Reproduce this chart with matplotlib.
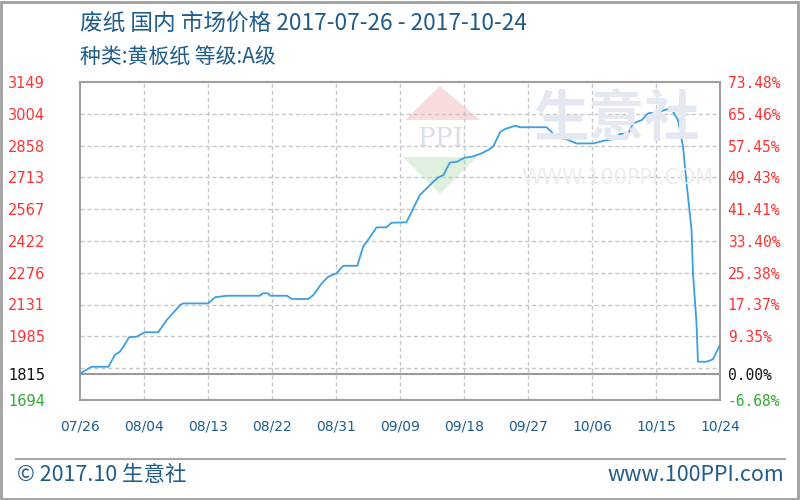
import matplotlib
matplotlib.use("Agg")
import matplotlib.pyplot as plt
import numpy as np
from matplotlib.patches import Polygon, Rectangle
from matplotlib.lines import Line2D

plt.rcParams['font.family'] = ['Noto Sans CJK SC', 'DejaVu Sans']

# price series, x = days after 2017-07-26
days = [0, 1.6, 4.0, 4.9, 5.6, 6.1, 6.9, 8.0, 9.1, 11.0, 12.2, 14.1, 14.5,
        18.0, 19.0, 20.6, 25.3, 25.7, 26.5, 26.7, 29.1, 29.8, 32.1, 32.8,
        34.0, 34.9, 36.1, 37.0, 39.0, 39.8, 40.5, 41.7, 43.1, 43.8, 45.9,
        47.8, 49.7, 50.4, 51.1, 52.0, 53.0, 54.1, 55.1, 56.5, 57.4, 58.1,
        59.1, 59.8, 61.2, 61.9, 65.6, 66.3, 66.8, 68.4, 69.8, 72.2, 73.6,
        75.0, 75.9, 77.1, 77.8, 79.0, 79.9, 81.3, 82.0, 82.7, 83.4, 84.1,
        84.8, 85.3, 86.0, 86.2, 86.7, 86.9, 88.1, 89.0, 90.0]
price = [1815, 1846, 1846, 1900, 1915, 1938, 1981, 1984, 2004, 2004, 2060,
         2129, 2136, 2136, 2164, 2171, 2171, 2182, 2182, 2171, 2171, 2156,
         2156, 2174, 2228, 2258, 2274, 2308, 2308, 2395, 2426, 2484, 2484,
         2505, 2507, 2632, 2693, 2713, 2723, 2780, 2784, 2803, 2807, 2823,
         2838, 2853, 2921, 2934, 2949, 2942, 2942, 2921, 2898, 2887, 2868,
         2868, 2880, 2887, 2911, 2914, 2960, 2975, 3006, 3010, 3018, 3025,
         3013, 2975, 2853, 2685, 2472, 2274, 2045, 1869, 1869, 1880, 1946]

base_price = 1815
y_min, y_max = 1694, 3149
left_ticks = [3149, 3004, 2858, 2713, 2567, 2422, 2276, 2131, 1985, 1815, 1694]
right_labels = ['73.48%', '65.46%', '57.45%', '49.43%', '41.41%', '33.40%',
                '25.38%', '17.37%', '9.35%', '0.00%', '-6.68%']
x_ticks = [0, 9, 18, 27, 36, 45, 54, 63, 72, 81, 90]
x_labels = ['07/26', '08/04', '08/13', '08/22', '08/31', '09/09', '09/18',
            '09/27', '10/06', '10/15', '10/24']

title1 = '废纸 国内 市场价格 2017-07-26 - 2017-10-24'
title2 = '种类:黄板纸 等级:A级'
footer_left = '© 2017.10 生意社'
footer_right = 'www.100PPI.com'

blue_text = '#1f5c8b'
up_col, flat_col, down_col = '#ff3333', '#111111', '#33aa33'

W, H = 800, 500
fig = plt.figure(figsize=(8, 5), dpi=100)


def fx(px):
    return px / W


def fy(py):
    return 1 - py / H


# outer frame and footer rule
fig.add_artist(Rectangle((0.001, 0.002), 0.997, 0.995, transform=fig.transFigure,
                         fill=False, edgecolor='#a0a0a0', linewidth=2))
fig.add_artist(Line2D([fx(16), fx(785)], [fy(459), fy(459)],
                      transform=fig.transFigure, color='#a8a8a8', linewidth=1.5))

# faint watermark
fig.add_artist(Polygon([[fx(405), fy(120)], [fx(440), fy(86)], [fx(480), fy(120)]],
                       closed=True, transform=fig.transFigure,
                       facecolor='#f8dcdc', edgecolor='none', zorder=0))
fig.add_artist(Polygon([[fx(403), fy(157)], [fx(440), fy(194)], [fx(477), fy(157)]],
                       closed=True, transform=fig.transFigure,
                       facecolor='#dff0df', edgecolor='none', zorder=0))
fig.text(fx(441), fy(138), 'PPI', fontsize=19, family='DejaVu Serif',
         color='#d8dfeb', ha='center', va='center', zorder=0)
fig.text(fx(617), fy(120), '生意社', fontsize=40, fontweight='bold',
         color='#e4e8f0', ha='center', va='center', zorder=0)
fig.text(fx(617), fy(178), 'WWW.100PPI.COM', fontsize=15, family='DejaVu Sans',
         color='#ededed', ha='center', va='center', zorder=0)

ax = fig.add_axes([fx(80), fy(400), fx(640), (400 - 82) / H])
ax.patch.set_alpha(0)
ax.plot(days, price, color='#3d9ee0', linewidth=1.3, zorder=3)

ax.set_xlim(0, 90)
ax.set_ylim(y_min, y_max)

# grid: 10 equal bands, base line solid
for g in np.linspace(y_min, y_max, 11)[1:-1]:
    ax.axhline(g, color='#c8c8c8', linewidth=1, linestyle=(0, (3, 2)), zorder=1)
for xv in x_ticks[1:-1]:
    ax.axvline(xv, color='#c8c8c8', linewidth=1, linestyle=(0, (3, 2)), zorder=1)
ax.axhline(base_price, color='#999999', linewidth=1.5, zorder=2)

for s in ax.spines.values():
    s.set_color('#a0a0a0')
    s.set_linewidth(1.5)

ax.set_xticks(x_ticks)
ax.set_xticklabels(x_labels, fontsize=10, family='DejaVu Sans', color=blue_text)
ax.tick_params(axis='x', length=0, pad=14)

ax.set_yticks(left_ticks)
ax.set_yticklabels([str(v) for v in left_ticks], fontsize=10.5, family='DejaVu Sans')
ax.tick_params(axis='y', length=0, pad=25)

ax2 = ax.twinx()
ax2.set_ylim(y_min, y_max)
ax2.set_yticks(left_ticks)
ax2.set_yticklabels(right_labels, fontsize=10.5, family='DejaVu Sans Mono')
ax2.tick_params(axis='y', length=0, pad=5.5)
for s in ax2.spines.values():
    s.set_visible(False)


def tick_color(v):
    if v > base_price:
        return up_col
    if v == base_price:
        return flat_col
    return down_col


for lab, v in zip(ax.get_yticklabels(), left_ticks):
    lab.set_color(tick_color(v))
for lab, v in zip(ax2.get_yticklabels(), left_ticks):
    lab.set_color(tick_color(v))

fig.text(fx(80), fy(23), title1, fontsize=16.3, color=blue_text, va='center')
fig.text(fx(80), fy(58), title2, fontsize=15, color=blue_text, va='center')
fig.text(fx(17), fy(475), footer_left, fontsize=15.5, color=blue_text, va='center')
fig.text(fx(784), fy(475), footer_right, fontsize=15.5, color=blue_text,
         va='center', ha='right')

fig.savefig('out.png', dpi=100)
